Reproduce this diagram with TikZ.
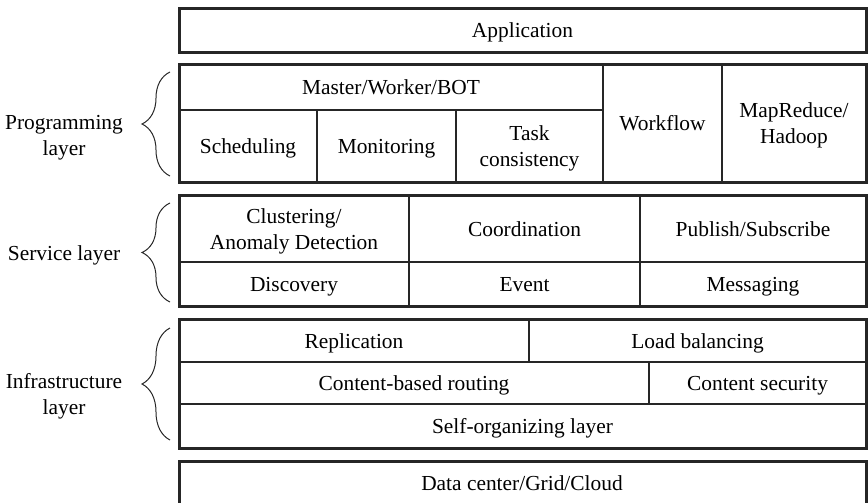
\documentclass[tikz,border=0pt]{standalone}
\usepackage{fontspec}
\setmainfont{Liberation Serif}
\usetikzlibrary{positioning,fit,decorations.pathreplacing}
\tikzset{
  cell/.style={draw=black!85,line width=0.55pt,inner sep=0pt,outer sep=0pt},
  txt/.style={align=center,inner sep=0pt,text depth=0.25em,yshift=-1.3pt,
    font=\fontsize{10.7}{13}\selectfont},
  frame/.style={draw=black!85,line width=1.5pt,inner sep=0pt,outer sep=0pt},
  lbrace/.style={decorate,decoration={brace,amplitude=14pt},line width=0.5pt,draw=black!85},
}
% one cell of the stack: name, two corners, text
\newcommand{\cellbox}[4]{%
  \node[cell,fit={#2 #3}](#1){};
  \node[txt](#1t) at (#1.center){#4};}

\begin{document}
\begin{tikzpicture}[x=0.5pt,y=-0.5pt]
  \useasboundingbox (0,0) rectangle (868,503);
  % top: application
  \cellbox{app}{(179,8)}{(866,52)}{Application}
  \node[frame,fit=(app)](appf){};
  % programming layer
  \cellbox{mw}{(179,64)}{(603,110)}{Master/Worker/BOT}
  \cellbox{sched}{(179,110)}{(317,182)}{Scheduling}
  \cellbox{monit}{(317,110)}{(456,182)}{Monitoring}
  \cellbox{taskc}{(456,110)}{(603,182)}{Task\\consistency}
  \cellbox{wflow}{(603,64)}{(722,182)}{Workflow}
  \cellbox{mapr}{(722,64)}{(866,182)}{MapReduce/\\Hadoop}
  \node[frame,fit=(mw)(sched)(mapr)](prog){};
  % service layer
  \cellbox{clust}{(179,195)}{(409,262)}{Clustering/\\Anomaly Detection}
  \cellbox{coord}{(409,195)}{(640,262)}{Coordination}
  \cellbox{pubsub}{(640,195)}{(866,262)}{Publish/Subscribe}
  \cellbox{disc}{(179,262)}{(409,306)}{Discovery}
  \cellbox{event}{(409,262)}{(640,306)}{Event}
  \cellbox{msg}{(640,262)}{(866,306)}{Messaging}
  \node[frame,fit=(clust)(msg)](serv){};
  % infrastructure layer
  \cellbox{repl}{(179,319)}{(529,362)}{Replication}
  \cellbox{loadb}{(529,319)}{(866,362)}{Load balancing}
  \cellbox{cbr}{(179,362)}{(649,404)}{Content-based routing}
  \cellbox{csec}{(649,362)}{(866,404)}{Content security}
  \cellbox{selforg}{(179,404)}{(866,448)}{Self-organizing layer}
  \node[frame,fit=(repl)(selforg)](infra){};
  % bottom: data center
  \cellbox{dc}{(179,461)}{(866,507)}{}
  \node[txt](dct) at (522,483){Data center/Grid/Cloud};
  \node[frame,fit=(dc)](dcf){};
  % braces and layer names
  \coordinate (pb0) at (170,176); \coordinate (pb1) at (170,72);
  \coordinate (sb0) at (170,302); \coordinate (sb1) at (170,203);
  \coordinate (ib0) at (170,440); \coordinate (ib1) at (170,328);
  \draw[lbrace](pb0)--(pb1);
  \draw[lbrace](sb0)--(sb1);
  \draw[lbrace](ib0)--(ib1);
  \node[txt](proglbl) at (64,135){Programming\\layer};
  \node[txt](servlbl) at (64,253){Service layer};
  \node[txt](infralbl) at (64,394){Infrastructure\\layer};
\end{tikzpicture}
\end{document}
